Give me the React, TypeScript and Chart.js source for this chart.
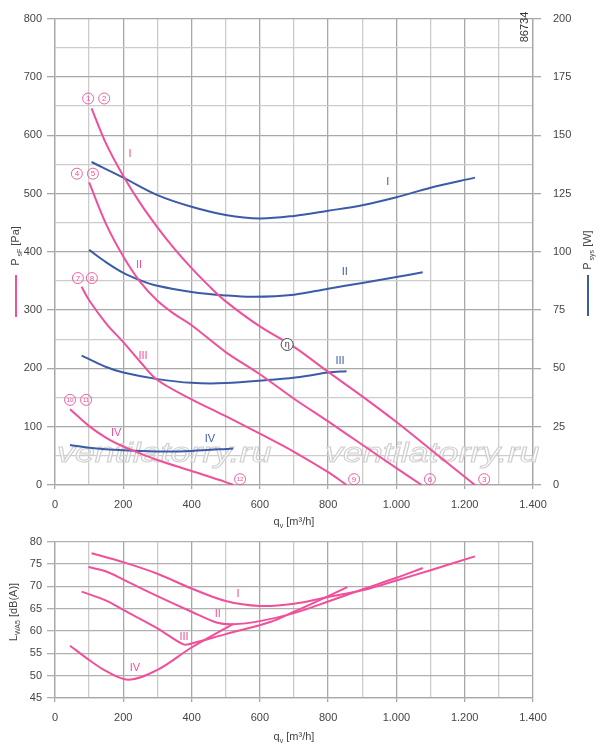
import { useEffect, useRef } from 'react';
import { Chart, registerables } from 'chart.js';

Chart.register(...registerables);

const PINK = '#f0509a';
const BLUE = '#3b5ba8';
const FONT = "'Liberation Sans', Arial, sans-serif";

// static pressure psF [Pa] over q [m3/h]
const qPsfI = [107, 150, 200, 250, 300, 350, 400, 450, 500, 600, 700, 800, 900, 1000, 1100, 1230];
const psfI = [646, 585, 530, 483, 442, 405, 372, 342, 315, 272, 237, 194, 152, 108, 61, 0];
const qPsfII = [100, 150, 200, 250, 300, 350, 400, 500, 600, 700, 800, 900, 1000, 1074];
const psfII = [519, 447, 392, 348, 316, 293, 274, 228, 190, 148, 109, 69, 29, 0];
const qPsfIII = [78, 100, 150, 200, 250, 300, 400, 500, 600, 700, 800, 854];
const psfIII = [340, 317, 277, 245, 211, 180, 147, 118, 88, 57, 22, 0];
const qPsfIV = [44, 100, 150, 200, 250, 300, 400, 500, 522];
const psfIV = [130, 101, 81, 66, 54, 43, 24, 5, 0];

// power input Psys [W]
const qPwrI = [107, 200, 300, 400, 500, 600, 700, 800, 900, 1000, 1100, 1230];
const pwrI = [138.5, 131.8, 124.3, 119.3, 115.8, 114.3, 115.4, 117.6, 120, 123.4, 127.5, 131.8];
const qPwrII = [100, 150, 200, 250, 300, 400, 500, 580, 700, 800, 900, 1000, 1077];
const pwrII = [100.8, 95.5, 91, 87.8, 85.4, 82.8, 81.3, 80.7, 81.6, 84.2, 86.6, 89.2, 91.2];
const qPwrIII = [78, 100, 150, 200, 300, 400, 500, 630, 718, 800, 854];
const pwrIII = [55.5, 54, 50.6, 48.2, 45.4, 43.8, 43.7, 45.1, 46.3, 48.2, 48.8];
const qPwrIV = [44, 100, 200, 300, 400, 522];
const pwrIV = [17.2, 16, 14.9, 14.4, 14.6, 15.7];

// sound power LWA5 [dB(A)]
const qSndI = [107, 200, 300, 400, 500, 600, 700, 800, 900, 1000, 1100, 1230];
const sndI = [77.4, 75.4, 72.8, 69.5, 66.7, 65.6, 66.1, 67.6, 69.1, 71.3, 73.6, 76.7];
const qSndII = [98, 150, 200, 300, 400, 473, 522, 600, 700, 800, 900, 1000, 1077];
const sndII = [74.3, 73.3, 71.5, 67.8, 64.3, 61.9, 61.5, 62.2, 64.0, 66.6, 69.3, 71.9, 74.1];
const qSndIII = [78, 150, 200, 300, 376, 400, 500, 630, 700, 800, 856];
const sndIII = [68.8, 66.8, 64.7, 60.6, 57.0, 57.2, 59.3, 62.0, 64.3, 67.8, 69.8];
const qSndIV = [44, 100, 150, 215, 300, 400, 522];
const sndIV = [56.7, 53.5, 51.0, 49.1, 51.3, 56.3, 61.6];

// annotations [q, value, text]
const pinkRoman: [number, number, string][] = [[220, 567, 'I'], [246, 378, 'II'], [258, 221, 'III'], [179, 89, 'IV']];
const blueRoman: [number, number, string][] = [[975, 519, 'I'], [849, 365, 'II'], [835, 213, 'III'], [454, 79, 'IV']];
const circled: [number, number, string][] = [
  [97, 663, '1'], [144, 663, '2'], [64, 534, '4'], [111, 534, '5'],
  [67, 355, '7'], [108, 355, '8'], [44, 146, '10'], [91, 146, '11'],
  [542, 10, '12'], [876, 10, '9'], [1098, 10, '6'], [1257, 10, '3'],
];
const soundRoman: [number, number, string][] = [[536, 68.3, 'I'], [477, 63.9, 'II'], [378, 58.6, 'III'], [234, 51.8, 'IV']];

const pts = (q: number[], v: number[]) => q.map((x, i) => ({ x, y: v[i] }));
const fmt = (v: number) => (v >= 1000 ? `${Math.floor(v / 1000)}.${String(v % 1000).padStart(3, '0')}` : String(v));

const line = (data: { x: number; y: number }[], color: string, yAxisID = 'y') => ({
  data,
  borderColor: color,
  borderWidth: 2,
  pointRadius: 0,
  showLine: true,
  fill: false,
  tension: 0.35,
  yAxisID,
});

type Part = [string, boolean];
function drawParts(ctx: CanvasRenderingContext2D, parts: Part[], x: number, y: number, size: number) {
  const sub = Math.round(size * 0.62);
  let total = 0;
  for (const [t, s] of parts) {
    ctx.font = `${s ? sub : size}px ${FONT}`;
    total += ctx.measureText(t).width;
  }
  let cx = x - total / 2;
  ctx.textAlign = 'left';
  ctx.textBaseline = 'alphabetic';
  for (const [t, s] of parts) {
    ctx.font = `${s ? sub : size}px ${FONT}`;
    ctx.fillText(t, cx, s ? y + 3 : y);
    cx += ctx.measureText(t).width;
  }
}
function drawRotated(ctx: CanvasRenderingContext2D, parts: Part[], x: number, y: number, size: number) {
  ctx.save();
  ctx.translate(x, y);
  ctx.rotate(-Math.PI / 2);
  drawParts(ctx, parts, 0, size * 0.35, size);
  ctx.restore();
}

function xScale(height: number) {
  return {
    type: 'linear' as const,
    min: 0,
    max: 1400,
    afterFit: (a: any) => { a.height = height; },
    border: { color: '#a8a8a8', width: 1.3 },
    grid: {
      color: (c: any) => (c.tick.value % 200 === 0 ? '#a8a8a8' : '#cccccc'),
      tickColor: (c: any) => (c.tick.value % 200 === 0 ? '#a8a8a8' : 'rgba(0,0,0,0)'),
      lineWidth: 1.3,
      tickLength: 4,
    },
    ticks: {
      stepSize: 100,
      autoSkip: false,
      maxRotation: 0,
      padding: 9,
      color: '#444',
      font: { size: 11, family: FONT },
      callback: (v: any) => (Number(v) % 200 === 0 ? fmt(Number(v)) : ''),
    },
  };
}

export default function App() {
  const topRef = useRef<HTMLCanvasElement>(null);
  const botRef = useRef<HTMLCanvasElement>(null);

  useEffect(() => {
    if (!topRef.current || !botRef.current) return;

    const topDeco = {
      id: 'topDeco',
      beforeDatasetsDraw(chart: any) {
        const ctx = chart.ctx as CanvasRenderingContext2D;
        ctx.save();
        ctx.font = `italic 28px ${FONT}`;
        ctx.strokeStyle = '#cfcfcf';
        ctx.lineWidth = 1;
        ctx.fillStyle = 'rgba(255,255,255,0.6)';
        for (const x0 of [57, 325]) {
          ctx.save();
          ctx.translate(x0, 462);
          ctx.scale(1.28, 1);
          ctx.fillText('ventilatorry.ru', 0, 0);
          ctx.strokeText('ventilatorry.ru', 0, 0);
          ctx.restore();
        }
        ctx.restore();
      },
      afterDatasetsDraw(chart: any) {
        const ctx = chart.ctx as CanvasRenderingContext2D;
        const sx = chart.scales.x;
        const sy = chart.scales.y;
        const a = chart.chartArea;
        ctx.save();
        ctx.textAlign = 'center';
        ctx.textBaseline = 'middle';
        ctx.font = `11px ${FONT}`;
        ctx.fillStyle = PINK;
        for (const [q, p, t] of pinkRoman) ctx.fillText(t, sx.getPixelForValue(q), sy.getPixelForValue(p));
        ctx.fillStyle = BLUE;
        for (const [q, p, t] of blueRoman) ctx.fillText(t, sx.getPixelForValue(q), sy.getPixelForValue(p));
        ctx.strokeStyle = PINK;
        ctx.fillStyle = PINK;
        ctx.lineWidth = 0.9;
        for (const [q, p, t] of circled) {
          const x = sx.getPixelForValue(q);
          const y = sy.getPixelForValue(p);
          ctx.beginPath();
          ctx.arc(x, y, 5.5, 0, Math.PI * 2);
          ctx.stroke();
          ctx.font = `${t.length > 1 ? 6 : 8}px ${FONT}`;
          ctx.fillText(t, x, y + 0.5);
        }
        // efficiency marker
        const ex = sx.getPixelForValue(680);
        const ey = sy.getPixelForValue(241);
        ctx.fillStyle = '#fff';
        ctx.strokeStyle = '#333';
        ctx.beginPath();
        ctx.arc(ex, ey, 6, 0, Math.PI * 2);
        ctx.fill();
        ctx.stroke();
        ctx.fillStyle = '#333';
        ctx.font = `9px ${FONT}`;
        ctx.fillText('η', ex, ey);
        // drawing number
        ctx.save();
        ctx.translate(a.right - 8, 27);
        ctx.rotate(-Math.PI / 2);
        ctx.font = `11px ${FONT}`;
        ctx.fillStyle = '#333';
        ctx.fillText('86734', 0, 0);
        ctx.restore();
        // axis titles
        ctx.fillStyle = '#444';
        drawParts(ctx, [['q', false], ['v', true], [' [m³/h]', false]], (a.left + a.right) / 2, a.bottom + 40, 11);
        drawRotated(ctx, [['P', false], [' sF', true], [' [Pa]', false]], 15, 246, 11);
        drawRotated(ctx, [['P', false], [' sys', true], [' [W]', false]], 587, 250, 11);
        ctx.lineWidth = 2;
        ctx.strokeStyle = PINK;
        ctx.beginPath();
        ctx.moveTo(16, 275);
        ctx.lineTo(16, 317);
        ctx.stroke();
        ctx.strokeStyle = BLUE;
        ctx.beginPath();
        ctx.moveTo(588, 275);
        ctx.lineTo(588, 316);
        ctx.stroke();
        ctx.restore();
      },
    };

    const botDeco = {
      id: 'botDeco',
      afterDatasetsDraw(chart: any) {
        const ctx = chart.ctx as CanvasRenderingContext2D;
        const sx = chart.scales.x;
        const sy = chart.scales.y;
        const a = chart.chartArea;
        ctx.save();
        ctx.textAlign = 'center';
        ctx.textBaseline = 'middle';
        ctx.font = `11px ${FONT}`;
        ctx.fillStyle = PINK;
        for (const [q, v, t] of soundRoman) ctx.fillText(t, sx.getPixelForValue(q), sy.getPixelForValue(v));
        ctx.fillStyle = '#444';
        drawParts(ctx, [['q', false], ['v', true], [' [m³/h]', false]], (a.left + a.right) / 2, a.bottom + 42, 11);
        drawRotated(ctx, [['L', false], ['WA5', true], [' [dB(A)]', false]], 13, 82, 11);
        ctx.restore();
      },
    };

    const top = new Chart(topRef.current, {
      type: 'scatter',
      data: {
        datasets: [
          line(pts(qPsfI, psfI), PINK),
          line(pts(qPsfII, psfII), PINK),
          line(pts(qPsfIII, psfIII), PINK),
          line(pts(qPsfIV, psfIV), PINK),
          line(pts(qPwrI, pwrI), BLUE, 'y1'),
          line(pts(qPwrII, pwrII), BLUE, 'y1'),
          line(pts(qPwrIII, pwrIII), BLUE, 'y1'),
          line(pts(qPwrIV, pwrIV), BLUE, 'y1'),
        ],
      },
      options: {
        responsive: false,
        animation: false,
        layout: { padding: { top: 7, left: 0, right: 0, bottom: 0 } },
        plugins: { legend: { display: false }, tooltip: { enabled: false } },
        scales: {
          x: xScale(45),
          y: {
            position: 'left',
            min: 0,
            max: 800,
            afterFit: (a: any) => { a.width = 55; },
            border: { color: '#a8a8a8', width: 1.3 },
            grid: {
              color: (c: any) => (c.tick.value % 100 === 0 ? '#a8a8a8' : '#cccccc'),
              tickColor: (c: any) => (c.tick.value % 100 === 0 ? '#a8a8a8' : 'rgba(0,0,0,0)'),
              lineWidth: 1.3,
              tickLength: 8,
            },
            ticks: {
              stepSize: 50,
              autoSkip: false,
              padding: 5,
              color: '#444',
              font: { size: 11, family: FONT },
              callback: (v: any) => (Number(v) % 100 === 0 ? String(v) : ''),
            },
          },
          y1: {
            position: 'right',
            min: 0,
            max: 200,
            afterFit: (a: any) => { a.width = 67; },
            border: { color: '#a8a8a8', width: 1.3 },
            grid: { drawOnChartArea: false, color: '#a8a8a8', lineWidth: 1.3, tickLength: 8 },
            ticks: {
              stepSize: 25,
              padding: 12,
              color: '#444',
              font: { size: 11, family: FONT },
            },
          },
        },
      },
      plugins: [topDeco],
    } as any);

    const bot = new Chart(botRef.current, {
      type: 'scatter',
      data: {
        datasets: [
          line(pts(qSndI, sndI), PINK),
          line(pts(qSndII, sndII), PINK),
          line(pts(qSndIII, sndIII), PINK),
          line(pts(qSndIV, sndIV), PINK),
        ],
      },
      options: {
        responsive: false,
        animation: false,
        layout: { padding: { top: 9, left: 0, right: 67, bottom: 0 } },
        plugins: { legend: { display: false }, tooltip: { enabled: false } },
        scales: {
          x: xScale(49),
          y: {
            position: 'left',
            min: 45,
            max: 80,
            afterFit: (a: any) => { a.width = 55; },
            border: { color: '#a8a8a8', width: 1.3 },
            grid: { color: '#b0b0b0', lineWidth: 1.3, tickLength: 8 },
            ticks: {
              stepSize: 5,
              padding: 5,
              color: '#444',
              font: { size: 11, family: FONT },
            },
          },
        },
      },
      plugins: [botDeco],
    } as any);

    return () => {
      top.destroy();
      bot.destroy();
    };
  }, []);

  return (
    <div style={{ position: 'fixed', left: 0, top: 0, width: 600, height: 747, background: '#fff' }}>
      <canvas ref={topRef} width={600} height={530} style={{ position: 'absolute', left: 0, top: 0 }} />
      <canvas ref={botRef} width={600} height={217} style={{ position: 'absolute', left: 0, top: 530 }} />
    </div>
  );
}
